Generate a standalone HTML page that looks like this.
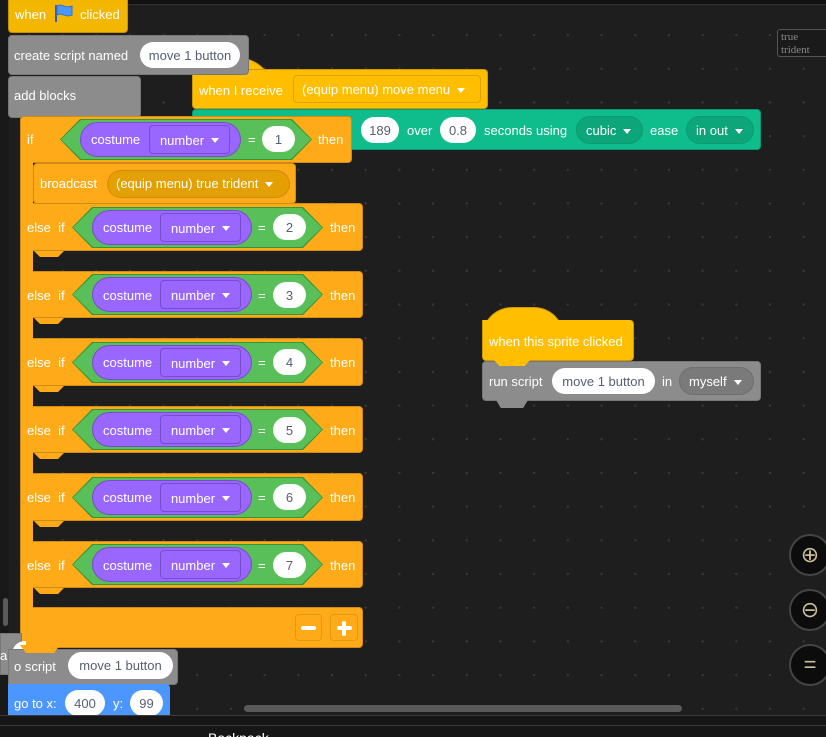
<!DOCTYPE html>
<html style="width:826px;height:737px;overflow:hidden"><head><meta charset="utf-8"><style>
*{margin:0;padding:0;box-sizing:border-box}
body{width:826px;height:737px;overflow:hidden;background:#1e1e1e;font-family:"Liberation Sans",sans-serif;font-size:13px;color:#fff;position:relative}
#dots{position:absolute;left:0;top:0;width:826px;height:715px;background-image:radial-gradient(circle,#3a3a3a 1px,transparent 1.3px);background-size:33.7px 33.7px;background-position:12px -15.5px}
.a{position:absolute}
.t{position:absolute;white-space:nowrap;line-height:1}
.pill{position:absolute;background:#fff;color:#575e75;border-radius:14px;display:flex;align-items:center;justify-content:center;white-space:nowrap}
.or{background:#ffab19;border:1px solid #cf8b17}
.yl{background:#ffbf00;border:1px solid #cc9900}
.gr{background:#8c8c8c;border:1px solid #777}
.hex{position:absolute;background:#389438}
.hex>div{position:absolute;inset:1px;background:#59c059}
.pu{position:absolute;background:#9966ff;border:1px solid #774dcb;border-radius:18px}
.nb{position:absolute;background:#9966ff;border:1px solid #774dcb;border-radius:4px;display:flex;align-items:center;justify-content:center;padding-top:1px}
.ar{display:inline-block;width:0;height:0;border-left:4px solid transparent;border-right:4px solid transparent;border-top:5px solid #fff;margin-left:7px;vertical-align:middle}
.zb{position:absolute;width:42px;height:42px;border-radius:50%;background:#0c0c0c;border:2px solid #444;color:#cbbf9a;font-size:22px;display:flex;align-items:center;justify-content:center}
</style></head><body>
<div id="dots"></div>
<div class="a" style="left:0;top:0;width:826px;height:4px;background:#111"></div>
<div class="a" style="left:0;top:4px;width:826px;height:1px;background:#333"></div>
<div class="a" style="left:0;top:0;width:9px;height:715px;background:#191919"></div>
<div class="a" style="left:3px;top:598px;width:5px;height:28px;background:#5a5a5a;border-radius:3px"></div>

<div class="a" style="left:777px;top:29px;width:60px;height:28px;border:1px solid #555;border-radius:3px;background:#1a1a1a"></div>
<div class="t" style="left:781px;top:31px;font-family:'Liberation Serif',serif;font-size:11px;color:#888;line-height:13px">true<br>trident</div>

<div class="a yl" style="left:192px;top:57px;width:84px;height:40px;border-radius:40px 40px 0 0;border-bottom:none"></div>
<div class="a yl" style="left:192px;top:69px;width:296px;height:40px;border-radius:4px"></div>
<div class="t" style="left:199px;top:84px">when I receive</div>
<div class="a" style="left:293px;top:75px;width:188px;height:28px;border:1px solid #d9a400;border-radius:4px;background:#ffbf00"></div>
<div class="t" style="left:302px;top:83px">(equip menu) move menu<span class="ar"></span></div>

<div class="a" style="left:192px;top:109px;width:569px;height:41px;background:#0fbd8c;border:1px solid #0b9a73;border-radius:4px"></div>
<div class="pill" style="left:361px;top:117px;width:38px;height:26px">189</div>
<div class="t" style="left:407px;top:124px">over</div>
<div class="pill" style="left:440px;top:117px;width:36px;height:26px">0.8</div>
<div class="t" style="left:484px;top:124px">seconds using</div>
<div class="a" style="left:576px;top:116px;width:67px;height:28px;border-radius:14px;background:#0da57a;border:1px solid #0b9a73"></div>
<div class="t" style="left:586px;top:124px">cubic<span class="ar"></span></div>
<div class="t" style="left:650px;top:124px">ease</div>
<div class="a" style="left:686px;top:116px;width:68px;height:28px;border-radius:14px;background:#0da57a;border:1px solid #0b9a73"></div>
<div class="t" style="left:696px;top:124px">in out<span class="ar"></span></div>

<div class="a yl" style="left:8px;top:-4px;width:120px;height:37px;border-radius:4px;opacity:.95"></div>
<div class="t" style="left:15px;top:8px">when</div>
<svg class="a" style="left:53px;top:3px" width="22" height="20"><path d="M3 2v17" stroke="#2b5fbf" stroke-width="2"/><path d="M4 3c5-3 8 3 15 0v9c-7 3-10-3-15 0z" fill="#4c97ff" stroke="#3373cc"/></svg>
<div class="t" style="left:80px;top:8px">clicked</div>

<div class="a gr" style="left:8px;top:35px;width:241px;height:40px;border-radius:4px"></div>
<div class="t" style="left:14px;top:49px">create script named</div>
<div class="pill" style="left:140px;top:42px;width:100px;height:26px">move 1 button</div>
<div class="a gr" style="left:8px;top:76px;width:133px;height:42px;border-radius:4px"></div>
<div class="t" style="left:14px;top:89px">add blocks</div>

<div class="a or" style="left:20px;top:116px;width:332px;height:47px;border-radius:4px"></div>
<div class="t" style="left:27px;top:133px">if</div>
<div class="hex" style="left:60px;top:119px;width:252px;height:41px;clip-path:polygon(20px 0,232px 0,100% 50%,232px 100%,20px 100%,0 50%)"><div style="clip-path:polygon(20px 0,230px 0,100% 50%,230px 100%,20px 100%,0 50%)"></div></div>
<div class="pu" style="left:80px;top:122px;width:161px;height:35px"></div>
<div class="t" style="left:91px;top:133px">costume</div>
<div class="nb" style="left:149px;top:125px;width:81px;height:29px">number<span class="ar"></span></div>
<div class="t" style="left:248px;top:133px">=</div>
<div class="pill" style="left:262px;top:126px;width:33px;height:26px">1</div>
<div class="t" style="left:318px;top:133px">then</div>

<div class="a or" style="left:33px;top:163px;width:263px;height:41px;border-radius:4px"></div>
<div class="t" style="left:40px;top:177px">broadcast</div>
<div class="a" style="left:107px;top:170px;width:183px;height:28px;border-radius:14px;background:#e3a000;border:1px solid #cf8b17"></div>
<div class="t" style="left:116px;top:177px">(equip menu) true trident<span class="ar"></span></div>

<div class="a or" style="left:20px;top:203px;width:343px;height:48px;border-radius:0 4px 4px 0"></div>
<div class="a or" style="left:20px;top:271px;width:343px;height:47px;border-radius:0 4px 4px 0"></div>
<div class="a or" style="left:20px;top:338px;width:343px;height:48px;border-radius:0 4px 4px 0"></div>
<div class="a or" style="left:20px;top:406px;width:343px;height:47px;border-radius:0 4px 4px 0"></div>
<div class="a or" style="left:20px;top:473px;width:343px;height:48px;border-radius:0 4px 4px 0"></div>
<div class="a or" style="left:20px;top:541px;width:343px;height:47px;border-radius:0 4px 4px 0"></div>
<div class="a or" style="left:20px;top:607px;width:343px;height:41px;border-radius:0 4px 4px 4px"></div>
<div class="a" style="left:21px;top:160px;width:12px;height:487px;background:#ffab19"></div>
<div class="a" style="left:20px;top:160px;width:1px;height:488px;background:#cf8b17"></div>

<div style="position:absolute;left:0;top:203px">
 <div class="t" style="left:27px;top:18px">else&nbsp; if</div>
 <div class="hex" style="left:72px;top:4px;width:251px;height:41px;clip-path:polygon(20px 0,231px 0,100% 50%,231px 100%,20px 100%,0 50%)"><div style="clip-path:polygon(20px 0,229px 0,100% 50%,229px 100%,20px 100%,0 50%)"></div></div>
 <div class="pu" style="left:92px;top:7px;width:160px;height:35px"></div>
 <div class="t" style="left:103px;top:18px">costume</div>
 <div class="nb" style="left:160px;top:10px;width:81px;height:29px">number<span class="ar"></span></div>
 <div class="t" style="left:258px;top:18px">=</div>
 <div class="pill" style="left:273px;top:11px;width:33px;height:26px">2</div>
 <div class="t" style="left:330px;top:18px">then</div>
</div>
<div style="position:absolute;left:0;top:271px">
 <div class="t" style="left:27px;top:18px">else&nbsp; if</div>
 <div class="hex" style="left:72px;top:3px;width:251px;height:41px;clip-path:polygon(20px 0,231px 0,100% 50%,231px 100%,20px 100%,0 50%)"><div style="clip-path:polygon(20px 0,229px 0,100% 50%,229px 100%,20px 100%,0 50%)"></div></div>
 <div class="pu" style="left:92px;top:6px;width:160px;height:35px"></div>
 <div class="t" style="left:103px;top:18px">costume</div>
 <div class="nb" style="left:160px;top:9px;width:81px;height:29px">number<span class="ar"></span></div>
 <div class="t" style="left:258px;top:18px">=</div>
 <div class="pill" style="left:273px;top:11px;width:33px;height:26px">3</div>
 <div class="t" style="left:330px;top:18px">then</div>
</div>
<div style="position:absolute;left:0;top:338px">
 <div class="t" style="left:27px;top:18px">else&nbsp; if</div>
 <div class="hex" style="left:72px;top:4px;width:251px;height:41px;clip-path:polygon(20px 0,231px 0,100% 50%,231px 100%,20px 100%,0 50%)"><div style="clip-path:polygon(20px 0,229px 0,100% 50%,229px 100%,20px 100%,0 50%)"></div></div>
 <div class="pu" style="left:92px;top:7px;width:160px;height:35px"></div>
 <div class="t" style="left:103px;top:18px">costume</div>
 <div class="nb" style="left:160px;top:10px;width:81px;height:29px">number<span class="ar"></span></div>
 <div class="t" style="left:258px;top:18px">=</div>
 <div class="pill" style="left:273px;top:11px;width:33px;height:26px">4</div>
 <div class="t" style="left:330px;top:18px">then</div>
</div>
<div style="position:absolute;left:0;top:406px">
 <div class="t" style="left:27px;top:18px">else&nbsp; if</div>
 <div class="hex" style="left:72px;top:3px;width:251px;height:41px;clip-path:polygon(20px 0,231px 0,100% 50%,231px 100%,20px 100%,0 50%)"><div style="clip-path:polygon(20px 0,229px 0,100% 50%,229px 100%,20px 100%,0 50%)"></div></div>
 <div class="pu" style="left:92px;top:6px;width:160px;height:35px"></div>
 <div class="t" style="left:103px;top:18px">costume</div>
 <div class="nb" style="left:160px;top:9px;width:81px;height:29px">number<span class="ar"></span></div>
 <div class="t" style="left:258px;top:18px">=</div>
 <div class="pill" style="left:273px;top:11px;width:33px;height:26px">5</div>
 <div class="t" style="left:330px;top:18px">then</div>
</div>
<div style="position:absolute;left:0;top:473px">
 <div class="t" style="left:27px;top:18px">else&nbsp; if</div>
 <div class="hex" style="left:72px;top:4px;width:251px;height:41px;clip-path:polygon(20px 0,231px 0,100% 50%,231px 100%,20px 100%,0 50%)"><div style="clip-path:polygon(20px 0,229px 0,100% 50%,229px 100%,20px 100%,0 50%)"></div></div>
 <div class="pu" style="left:92px;top:7px;width:160px;height:35px"></div>
 <div class="t" style="left:103px;top:18px">costume</div>
 <div class="nb" style="left:160px;top:10px;width:81px;height:29px">number<span class="ar"></span></div>
 <div class="t" style="left:258px;top:18px">=</div>
 <div class="pill" style="left:273px;top:11px;width:33px;height:26px">6</div>
 <div class="t" style="left:330px;top:18px">then</div>
</div>
<div style="position:absolute;left:0;top:541px">
 <div class="t" style="left:27px;top:18px">else&nbsp; if</div>
 <div class="hex" style="left:72px;top:3px;width:251px;height:41px;clip-path:polygon(20px 0,231px 0,100% 50%,231px 100%,20px 100%,0 50%)"><div style="clip-path:polygon(20px 0,229px 0,100% 50%,229px 100%,20px 100%,0 50%)"></div></div>
 <div class="pu" style="left:92px;top:6px;width:160px;height:35px"></div>
 <div class="t" style="left:103px;top:18px">costume</div>
 <div class="nb" style="left:160px;top:9px;width:81px;height:29px">number<span class="ar"></span></div>
 <div class="t" style="left:258px;top:18px">=</div>
 <div class="pill" style="left:273px;top:11px;width:33px;height:26px">7</div>
 <div class="t" style="left:330px;top:18px">then</div>
</div>

<div class="a" style="left:34px;top:251px;width:30px;height:6px;background:#ffab19;clip-path:polygon(0 0,100% 0,80% 100%,20% 100%)"></div>
<div class="a" style="left:34px;top:318px;width:30px;height:6px;background:#ffab19;clip-path:polygon(0 0,100% 0,80% 100%,20% 100%)"></div>
<div class="a" style="left:34px;top:386px;width:30px;height:6px;background:#ffab19;clip-path:polygon(0 0,100% 0,80% 100%,20% 100%)"></div>
<div class="a" style="left:34px;top:453px;width:30px;height:6px;background:#ffab19;clip-path:polygon(0 0,100% 0,80% 100%,20% 100%)"></div>
<div class="a" style="left:34px;top:521px;width:30px;height:6px;background:#ffab19;clip-path:polygon(0 0,100% 0,80% 100%,20% 100%)"></div>
<div class="a" style="left:34px;top:588px;width:30px;height:6px;background:#ffab19;clip-path:polygon(0 0,100% 0,80% 100%,20% 100%)"></div>

<div class="a" style="left:295px;top:614px;width:27px;height:27px;border:1px solid #e09a10;border-radius:4px;display:flex;align-items:center;justify-content:center"><div style="width:15px;height:4px;background:#fff;border-radius:2px"></div></div>
<div class="a" style="left:330px;top:614px;width:28px;height:27px;border:1px solid #e09a10;border-radius:4px"></div>
<div class="a" style="left:337px;top:626px;width:15px;height:4px;background:#fff;border-radius:2px"></div>
<div class="a" style="left:342px;top:621px;width:4px;height:15px;background:#fff;border-radius:2px"></div>

<div class="a gr" style="left:0;top:633px;width:22px;height:42px"></div>
<div class="a" style="left:12px;top:641px;width:14px;height:26px;background:#fff;border-radius:13px 0 0 13px"></div>
<div class="t" style="left:0;top:649px">a</div>
<div class="a gr" style="left:8px;top:649px;width:170px;height:36px;border-radius:0 4px 4px 0"></div>
<div class="a" style="left:20px;top:645px;width:40px;height:8px;background:#ffab19;clip-path:polygon(0 0,100% 0,85% 100%,15% 100%)"></div>
<div class="t" style="left:14px;top:660px">o script</div>
<div class="pill" style="left:68px;top:652px;width:105px;height:27px">move 1 button</div>
<div class="a" style="left:8px;top:684px;width:162px;height:35px;background:#4c97ff;border-radius:0 4px 0 0"></div>
<div class="t" style="left:14px;top:697px">go to x:</div>
<div class="pill" style="left:65px;top:690px;width:40px;height:26px">400</div>
<div class="t" style="left:113px;top:697px">y:</div>
<div class="pill" style="left:130px;top:690px;width:33px;height:26px">99</div>

<div class="a yl" style="left:482px;top:307px;width:82px;height:30px;border-radius:40px 40px 0 0;border-bottom:none"></div>
<div class="a yl" style="left:482px;top:320px;width:152px;height:41px;border-radius:0 4px 4px 4px;border-top:none"></div>
<div class="t" style="left:489px;top:335px">when this sprite clicked</div>
<div class="a gr" style="left:482px;top:361px;width:279px;height:40px;border-radius:4px"></div>
<div class="a" style="left:494px;top:360px;width:36px;height:6px;background:#ffbf00;clip-path:polygon(0 0,100% 0,85% 100%,15% 100%)"></div>
<div class="a" style="left:496px;top:400px;width:32px;height:8px;background:#8c8c8c;clip-path:polygon(0 0,100% 0,85% 100%,15% 100%)"></div>
<div class="t" style="left:489px;top:375px">run script</div>
<div class="pill" style="left:552px;top:368px;width:103px;height:26px">move 1 button</div>
<div class="t" style="left:662px;top:375px">in</div>
<div class="a" style="left:679px;top:367px;width:75px;height:28px;border-radius:14px;background:#7a7a7a;border:1px solid #6e6e6e"></div>
<div class="t" style="left:689px;top:375px">myself<span class="ar"></span></div>

<div class="zb" style="left:789px;top:534px">⊕</div>
<div class="zb" style="left:789px;top:589px">⊖</div>
<div class="zb" style="left:789px;top:644px">=</div>

<div class="a" style="left:244px;top:705px;width:438px;height:7px;background:#5a5a5a;border-radius:4px"></div>
<div class="a" style="left:0;top:715px;width:826px;height:22px;background:#161616;border-top:1px solid #3a3a3a;overflow:hidden">
 <div class="a" style="left:0;top:9px;width:826px;height:1px;background:#3a3a3a"></div>
 <div class="t" style="left:208px;top:15px;font-size:14px">Backpack</div>
</div>
</body></html>
